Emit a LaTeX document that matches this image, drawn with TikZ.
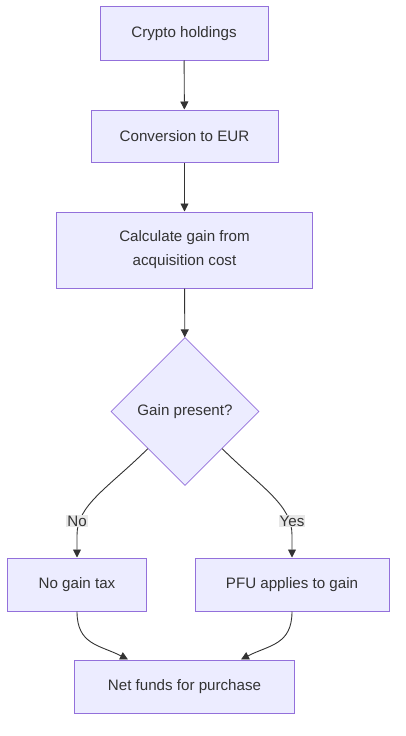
\documentclass[tikz,border=0pt]{standalone}
\usepackage{fontspec}
\setmainfont{Liberation Sans}
\usetikzlibrary{shapes.geometric,arrows.meta}
\definecolor{nodefill}{HTML}{ECECFF}
\definecolor{nodeline}{HTML}{9370DB}
\definecolor{txt}{HTML}{333333}
\definecolor{lblbg}{HTML}{E8E8E8}
\tikzset{
  box/.style={draw=nodeline, fill=nodefill, line width=1bp, text=txt, inner sep=0pt, align=center,
    font=\fontsize{15.2}{24}\selectfont},
  decision/.style={diamond, draw=nodeline, fill=nodefill, line width=0.8bp, text=txt, inner sep=0pt,
    minimum width=148bp, minimum height=148bp, font=\fontsize{15.2}{19}\selectfont},
  conn/.style={draw=txt, line width=0.9bp, -{Triangle[length=8bp,width=8bp]}},
  lbl/.style={fill=lblbg, text=txt, inner sep=1bp, font=\fontsize{15.2}{19}\selectfont}
}
\begin{document}
\begin{tikzpicture}[x=1bp,y=-1bp]
\useasboundingbox (0,0) rectangle (405,736);
\node[box, minimum width=168bp, minimum height=53bp] (crypto) at (184,33.5) {Crypto holdings};
\node[box, minimum width=187bp, minimum height=52bp] (conv) at (184.5,136) {Conversion to EUR};
\node[box, minimum width=255bp, minimum height=76bp] (calc) at (184.5,250) {Calculate gain from\\acquisition cost};
\node[decision] (gain) at (185,411.5) {Gain present?};
\node[box, minimum width=138bp, minimum height=53bp] (nogain) at (77,584.5) {No gain tax};
\node[box, minimum width=194bp, minimum height=53bp] (pfu) at (292,584.5) {PFU applies to gain};
\node[box, minimum width=219bp, minimum height=53bp] (net) at (184.5,686.5) {Net funds for purchase};

\draw[conn] (crypto) -- (conv);
\draw[conn] (conv) -- (calc);
\draw[conn] (calc) -- (gain);
\draw[conn] (gain.south west) .. controls (108,488) and (77,505) .. (77,535) -- (nogain.north);
\draw[conn] (gain.south east) .. controls (262,488) and (292,505) .. (292,535) -- (pfu.north);
\node[lbl] (lno) at (77,521) {No};
\node[lbl] (lyes) at (292,521) {Yes};
\draw[conn] (nogain.south) .. controls (77,645) and (100,645) .. ([xshift=-56.5bp]net.north);
\draw[conn] (pfu.south) .. controls (292,645) and (269,645) .. ([xshift=56.5bp]net.north);
\end{tikzpicture}
\end{document}
